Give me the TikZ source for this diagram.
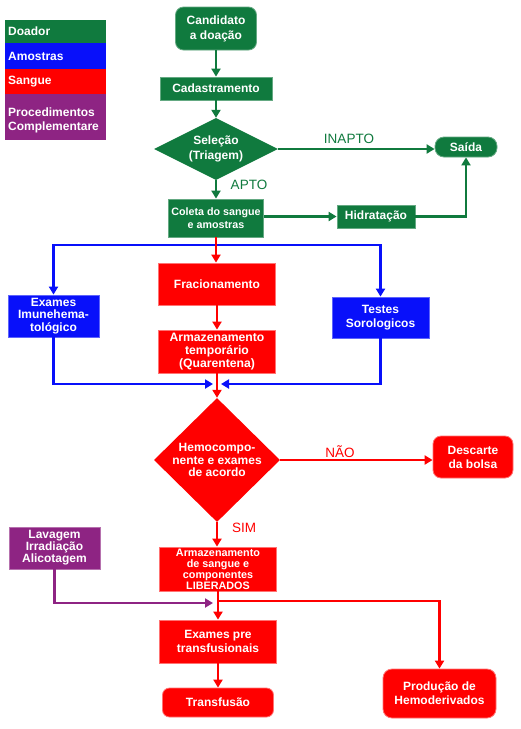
\documentclass[tikz,border=0pt]{standalone}
\usepackage{fontspec}
\setmainfont{Liberation Sans}
\usetikzlibrary{shapes.geometric,arrows.meta}
\definecolor{dgreen}{RGB}{16,122,62}
\definecolor{dblue}{RGB}{8,16,250}
\definecolor{dred}{RGB}{255,0,0}
\definecolor{dpurple}{RGB}{142,36,131}
\tikzset{
  base/.style={font=\bfseries\fontsize{12}{14}\selectfont, text=white, align=center, inner sep=0pt},
  gbox/.style={base, fill=dgreen, draw=dgreen!65!white, line width=0.8pt},
  bbox/.style={base, fill=dblue, draw=dblue!65!white, line width=0.8pt},
  rbox/.style={base, fill=dred, draw=dred!55!white, line width=0.8pt},
  pbox/.style={base, fill=dpurple, draw=dpurple!65!white, line width=0.8pt},
  legbox/.style={base, align=left, anchor=north west, minimum width=101pt, text width=95pt, inner xsep=3pt},
  arr/.style={-{Triangle[width=9pt,length=8pt]}, line width=2.2pt},
  lbl/.style={font=\fontsize{13.5}{15}\selectfont, inner sep=0pt}
}
\begin{document}
\begin{tikzpicture}[x=1pt,y=-1pt]
\useasboundingbox[fill=white] (0,0) rectangle (521,729);
% legend
\node[legbox, fill=dgreen, minimum height=23pt] (lg1) at (5,20) {Doador};
\node[legbox, fill=dblue, minimum height=26pt] (lg2) at (5,43) {Amostras};
\node[legbox, fill=dred, minimum height=25pt] (lg3) at (5,69) {Sangue};
\node[legbox, fill=dpurple, minimum height=46pt, font=\bfseries\fontsize{12}{13.5}\selectfont] (lg4) at (5,94) {\rule{0pt}{15pt}Procedimentos\\Complementare};
% top (green)
\node[gbox, rounded corners=8pt, minimum width=81pt, minimum height=43pt, font=\bfseries\fontsize{12}{15}\selectfont] (cand) at (216,28.5) {Candidato\\a doação};
\node[gbox, minimum width=112pt, minimum height=23pt] (cad) at (216,88.5) {Cadastramento};
\node[diamond, fill=dgreen, inner sep=0pt, minimum width=124pt, minimum height=62pt,
      label={[base, font=\bfseries\fontsize{12}{15}\selectfont]center:Seleção\\(Triagem)}] (sel) at (216,149) {};
\node[gbox, minimum width=95pt, minimum height=38pt, font=\bfseries\fontsize{10.7}{13}\selectfont] (col) at (216,218) {Coleta do sangue\\e amostras};
\node[gbox, minimum width=78pt, minimum height=23pt] (hid) at (376,216.5) {Hidratação};
\node[gbox, rounded corners=9pt, minimum width=62pt, minimum height=20pt] (sai) at (466,147) {Saída};
\node[lbl, text=dgreen] (inapto) at (349,139) {INAPTO};
\node[lbl, text=dgreen] (apto) at (249,185) {APTO};
\draw[arr, dgreen] (cand) -- (cad);
\draw[arr, dgreen] (cad) -- (sel);
\draw[arr, dgreen] (sel) -- (col);
\draw[arr, dgreen] (sel.east) -- (sai.west |- sel.east);
\draw[arr, dgreen] (col.east |- hid.west) -- (hid.west);
\draw[arr, dgreen] (hid.east) -| (sai.south);
% middle
\node[rbox, minimum width=117pt, minimum height=42pt] (fra) at (217,284) {Fracionamento};
\node[rbox, minimum width=117pt, minimum height=43pt, font=\bfseries\fontsize{12.2}{12.6}\selectfont] (arm) at (217,351.5) {Armazenamento\\temporário\\(Quarentena)};
\node[bbox, minimum width=91pt, minimum height=42pt, font=\bfseries\fontsize{12}{12.6}\selectfont] (exi) at (53.5,316) {Exames\\Imunehema-\\tológico};
\node[bbox, minimum width=97pt, minimum height=41pt] (tes) at (380.5,317.5) {Testes\\Sorologicos};
\coordinate (bj) at (216,245);
\draw[arr, dblue] (bj) -| (exi.north);
\draw[arr, dblue] (bj) -| (tes.north);
\draw[arr, dred] (col.south) -- (col.south |- fra.north);
\draw[arr, dred] (fra) -- (arm);
\coordinate (mL) at (213,384);
\coordinate (mR) at (221,384);
\draw[arr, dblue] (exi.south) |- (mL);
\draw[arr, dblue] (tes.south) |- (mR);
% decision
\node[diamond, fill=dred, inner sep=0pt, minimum width=126pt, minimum height=124pt,
      label={[base, font=\bfseries\fontsize{12}{12.5}\selectfont]center:Hemocompo-\\nente e exames\\de acordo}] (hem) at (217,460) {};
\draw[arr, dred] (arm) -- (hem);
\node[rbox, rounded corners=8pt, minimum width=80pt, minimum height=42pt] (des) at (473,457) {Descarte\\da bolsa};
\node[lbl, text=dred] (nao) at (340,452) {NÃO};
\node[lbl, text=dred] (sim) at (244,528) {SIM};
\draw[arr, dred] (hem.east) -- (des.west |- hem.east);
% bottom
\node[rbox, minimum width=117pt, minimum height=44pt, font=\bfseries\fontsize{10.8}{11}\selectfont] (lib) at (218,569) {Armazenamento\\de sangue e\\componentes\\LIBERADOS};
\draw[arr, dred] (hem.south) -- (hem.south |- lib.north);
\node[pbox, minimum width=91pt, minimum height=42pt, font=\bfseries\fontsize{12}{12}\selectfont] (lav) at (54.5,548) {Lavagem\\Irradiação\\Alicotagem};
\node[rbox, minimum width=117pt, minimum height=43pt] (exp) at (218,641.5) {Exames pre\\transfusionais};
\node[rbox, rounded corners=7pt, minimum width=111pt, minimum height=29pt] (tra) at (218,702.5) {Transfusão};
\node[rbox, rounded corners=9pt, minimum width=113pt, minimum height=49pt] (pro) at (439.5,693.5) {Produção de\\Hemoderivados};
\coordinate (mP) at (213,603);
\coordinate (br) at (218,601);
\draw[arr, dpurple] (lav.south) |- (mP);
\draw[arr, dred] (lib) -- (exp);
\draw[arr, dred] (br) -| (pro.north);
\draw[arr, dred] (exp) -- (tra);
\end{tikzpicture}
\end{document}
